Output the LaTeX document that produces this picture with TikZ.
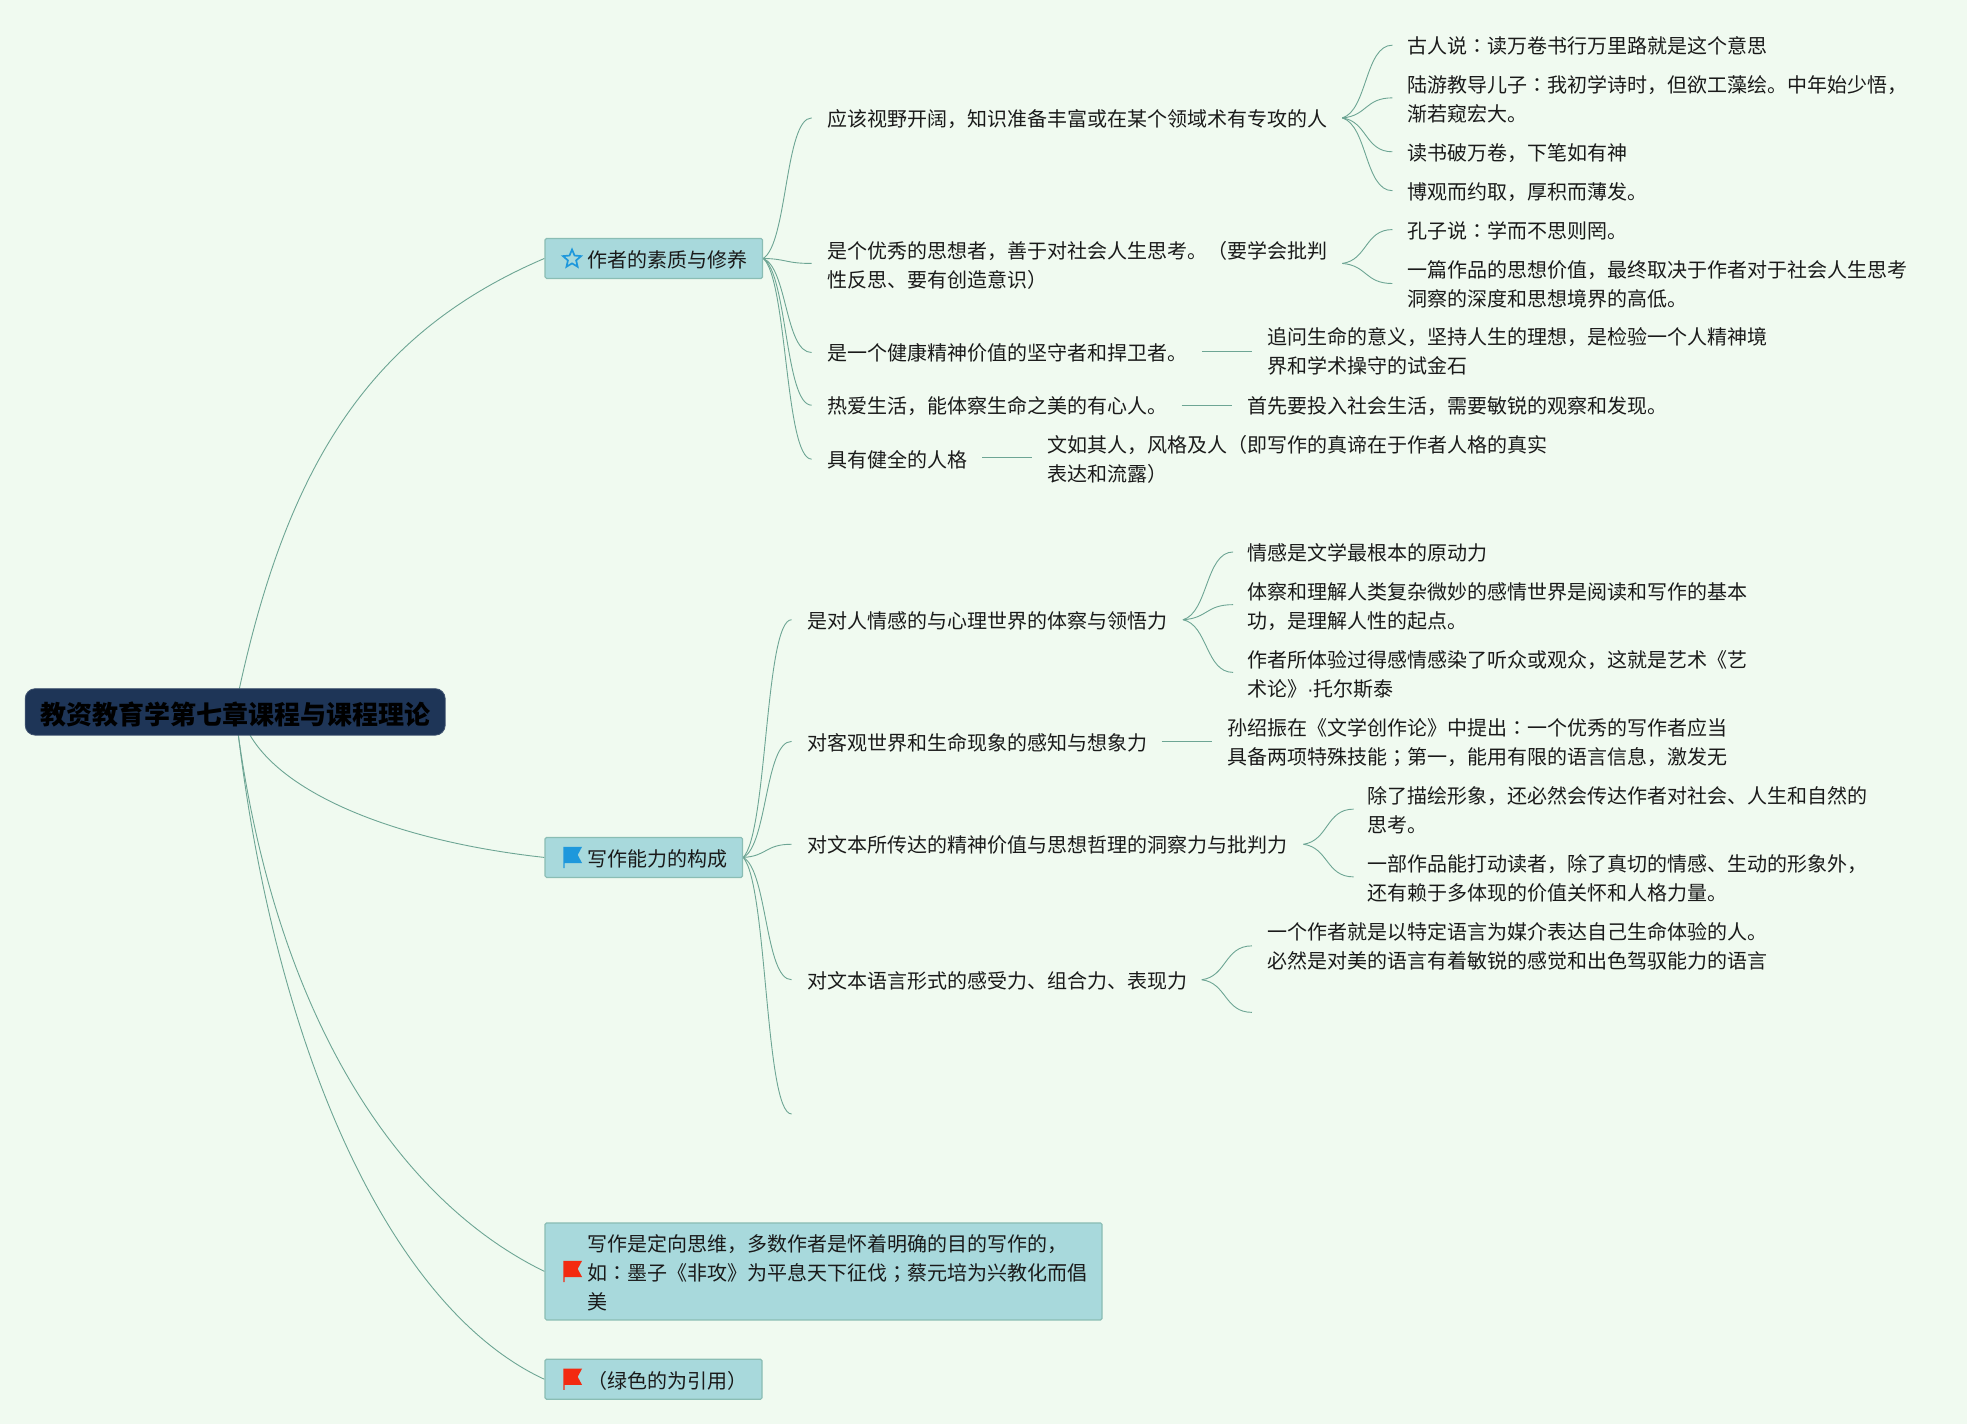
\documentclass[tikz,border=0pt]{standalone}
\usepackage{fontspec}
\setmainfont{Noto Sans CJK SC}
\newfontfamily\tcf{Noto Sans CJK TC}
\newfontfamily\latf{Liberation Sans}
\newcommand\co{{\tcf ：}}
\newcommand\sco{{\tcf ；}}
\usetikzlibrary{calc,backgrounds,shapes.geometric}
\definecolor{bgc}{HTML}{F0FAF0}
\definecolor{boxc}{HTML}{A8D9DC}
\definecolor{boxl}{HTML}{8ABDB4}
\definecolor{linkc}{HTML}{6DA594}
\definecolor{rootc}{HTML}{1E3557}
\definecolor{bluec}{HTML}{1E98DC}
\definecolor{redc}{HTML}{F32A10}
\definecolor{inkc}{HTML}{1A1A1A}
\newcommand\ts{\rule{0pt}{23.2pt}\rule[-5.8pt]{0pt}{5.8pt}}
\newcommand\nl{\\\ts}
\newcommand\tn[4]{\node[txt] (#1) at (#2,#3) {\ts #4};}
\newcommand\bx[6]{\node[boxnode,minimum width=#4pt,minimum height=#5pt] (#1) at (#2,#3) {\makebox[#4pt][l]{\hspace*{42.7pt}\parbox[c]{\dimexpr#4pt-44pt\relax}{\ts #6}}};}
\newcommand\lk[2]{\draw[linkline] let \p1=(#1),\p2=(#2) in (\p1) .. controls ({\x1+0.5*(\x2-\x1)},{\y1+0.1*(\y2-\y1)}) and ({\x1+0.45*(\x2-\x1)},\y2) .. (\p2);}
\newcommand\flagicon[3]{\fill[#3,shift={(#1,#2)}] (0,0) -- (15,0) -- (11.5,6.5) -- (15,13) -- (1,13) -- (1,17) -- (0,17) -- cycle;}
\tikzset{
  x=1.25446pt,y=-1.25446pt,
  txt/.style={anchor=west,inner sep=0pt,align=left,text=inkc,font=\fontsize{20}{29}\selectfont},
  boxnode/.style={anchor=west,inner sep=0pt,fill=boxc,draw=boxl,line width=1.2pt,rounded corners=1.5pt,text=inkc,font=\fontsize{20}{29}\selectfont},
  rootnode/.style={anchor=center,inner sep=0pt,fill=rootc,draw=rootc!85!white,line width=.8pt,rounded corners=10pt,text=black,font=\fontsize{26}{30}\selectfont\bfseries,minimum width=420pt,minimum height=46.5pt,text height=30pt,text depth=5.2pt},
  linkline/.style={draw=linkc,line width=.9pt},
}
\begin{document}
\begin{tikzpicture}
\useasboundingbox (0,0) rectangle (1568,1135);
\node[rootnode] (root) at (187.5,567.5) {教资教育学第七章课程与课程理论};
\bx{A}{434}{206}{217.5}{40}{作者的素质与修养}
\bx{B}{434}{683.5}{197.5}{40}{写作能力的构成}
\bx{C}{434}{1013.5}{557}{97}{写作是定向思维，多数作者是怀着明确的目的写作的，\nl 如\co 墨子《非攻》为平息天下征伐\sco 蔡元培为兴教化而倡\nl 美}
\bx{D}{434}{1099.5}{217}{40}{（绿色的为引用）}
\node[star,star points=5,star point ratio=2.2,draw=bluec,line width=1.7pt,inner sep=0pt,minimum size=19pt] (staricon) at (456,206.5) {};
\flagicon{449}{675}{bluec}
\flagicon{449}{1005}{redc}
\flagicon{449}{1091}{redc}
% first branch
\tn{a1}{659.7}{94}{应该视野开阔，知识准备丰富或在某个领域术有专攻的人}
\tn{a1c1}{1122}{36}{古人说\co 读万卷书行万里路就是这个意思}
\tn{a1c2}{1122}{78.2}{陆游教导儿子\co 我初学诗时，但欲工藻绘。中年始少悟，\nl 渐若窥宏大。}
\tn{a1c3}{1122}{121}{读书破万卷，下笔如有神}
\tn{a1c4}{1122}{152}{博观而约取，厚积而薄发。}
\tn{a2}{659.7}{210.5}{是个优秀的思想者，善于对社会人生思考。（要学会批判\nl 性反思、要有创造意识）}
\tn{a2c1}{1122}{183.5}{孔子说\co 学而不思则罔。}
\tn{a2c2}{1122}{226}{一篇作品的思想价值，最终取决于作者对于社会人生思考\nl 洞察的深度和思想境界的高低。}
\tn{a3}{659.7}{280.3}{是一个健康精神价值的坚守者和捍卫者。}
\tn{a3c}{1010}{279.6}{追问生命的意义，坚持人生的理想，是检验一个人精神境\nl 界和学术操守的试金石}
\tn{a4}{659.7}{323}{热爱生活，能体察生命之美的有心人。}
\tn{a4c}{994}{323}{首先要投入社会生活，需要敏锐的观察和发现。}
\tn{a5}{659.7}{366}{具有健全的人格}
\tn{a5c}{835}{365}{文如其人，风格及人（即写作的真谛在于作者人格的真实\nl 表达和流露）}
% second branch
\tn{b1}{643.7}{494}{是对人情感的与心理世界的体察与领悟力}
\tn{b1c1}{994}{440}{情感是文学最根本的原动力}
\tn{b1c2}{994}{482.6}{体察和理解人类复杂微妙的感情世界是阅读和写作的基本\nl 功，是理解人性的起点。}
\tn{b1c3}{994}{536.6}{作者所体验过得感情感染了听众或观众，这就是艺术《艺\nl 术论》{\latf ·}托尔斯泰}
\tn{b2}{643.7}{591}{对客观世界和生命现象的感知与想象力}
\tn{b2c}{978}{591}{孙绍振在《文学创作论》中提出\co 一个优秀的写作者应当\nl 具备两项特殊技能\sco 第一，能用有限的语言信息，激发无}
\tn{b3}{643.7}{673}{对文本所传达的精神价值与思想哲理的洞察力与批判力}
\tn{b3c1}{1090}{645}{除了描绘形象，还必然会传达作者对社会、人生和自然的\nl 思考。}
\tn{b3c2}{1090}{699}{一部作品能打动读者，除了真切的情感、生动的形象外，\nl 还有赖于多体现的价值关怀和人格力量。}
\tn{b4}{643.7}{781}{对文本语言形式的感受力、组合力、表现力}
\tn{b4c}{1010}{753.5}{一个作者就是以特定语言为媒介表达自己生命体验的人。\nl 必然是对美的语言有着敏锐的感觉和出色驾驭能力的语言}
% connector ends
\coordinate (a1i) at (647,94); \coordinate (a2i) at (647,210); \coordinate (a3i) at (647,281);
\coordinate (a4i) at (647,323); \coordinate (a5i) at (647,366);
\coordinate (a1o) at (1070,94); \coordinate (a2o) at (1070,210);
\coordinate (a1c1i) at (1110,36); \coordinate (a1c2i) at (1110,78); \coordinate (a1c3i) at (1110,121); \coordinate (a1c4i) at (1110,152);
\coordinate (a2c1i) at (1110,183); \coordinate (a2c2i) at (1110,226);
\coordinate (a3o) at (958,280); \coordinate (a3ci) at (998,280);
\coordinate (a4o) at (942,323); \coordinate (a4ci) at (982,323);
\coordinate (a5o) at (783,365); \coordinate (a5ci) at (823,365);
\coordinate (b1i) at (631,494); \coordinate (b2i) at (631,591); \coordinate (b3i) at (631,673);
\coordinate (b4i) at (631,781); \coordinate (b5end) at (631,888);
\coordinate (b1o) at (943,494);
\coordinate (b1c1i) at (983,440); \coordinate (b1c2i) at (983,482); \coordinate (b1c3i) at (983,536);
\coordinate (b2o) at (926,591); \coordinate (b2ci) at (966,591);
\coordinate (b3o) at (1039,673); \coordinate (b3c1i) at (1079,645); \coordinate (b3c2i) at (1079,699);
\coordinate (b4o) at (958,781); \coordinate (b4ci) at (998,754); \coordinate (b4end) at (998,807);
\coordinate (rootA) at (190.8,549);
\coordinate (rootB) at (199.3,586);
\coordinate (rootC) at (190,586);
\begin{scope}[on background layer]
\fill[bgc] (0,0) rectangle (1568,1135);
\draw[linkline] (rootA) .. controls (230,369) and (296,265) .. (A.west);
\draw[linkline] (rootB) .. controls (228,635) and (320,671) .. (B.west);
\draw[linkline] (rootC) .. controls (222,816) and (320,958) .. (C.west);
\draw[linkline] (rootC) .. controls (222,850) and (316,1045) .. (D.west);
\lk{A.east}{a1i}\lk{A.east}{a2i}\lk{A.east}{a3i}\lk{A.east}{a4i}\lk{A.east}{a5i}
\lk{a1o}{a1c1i}\lk{a1o}{a1c2i}\lk{a1o}{a1c3i}\lk{a1o}{a1c4i}
\lk{a2o}{a2c1i}\lk{a2o}{a2c2i}
\lk{a3o}{a3ci}\lk{a4o}{a4ci}\lk{a5o}{a5ci}
\lk{B.east}{b1i}\lk{B.east}{b2i}\lk{B.east}{b3i}\lk{B.east}{b4i}\lk{B.east}{b5end}
\lk{b1o}{b1c1i}\lk{b1o}{b1c2i}\lk{b1o}{b1c3i}
\lk{b2o}{b2ci}
\lk{b3o}{b3c1i}\lk{b3o}{b3c2i}
\lk{b4o}{b4ci}\lk{b4o}{b4end}
\end{scope}
\end{tikzpicture}
\end{document}
